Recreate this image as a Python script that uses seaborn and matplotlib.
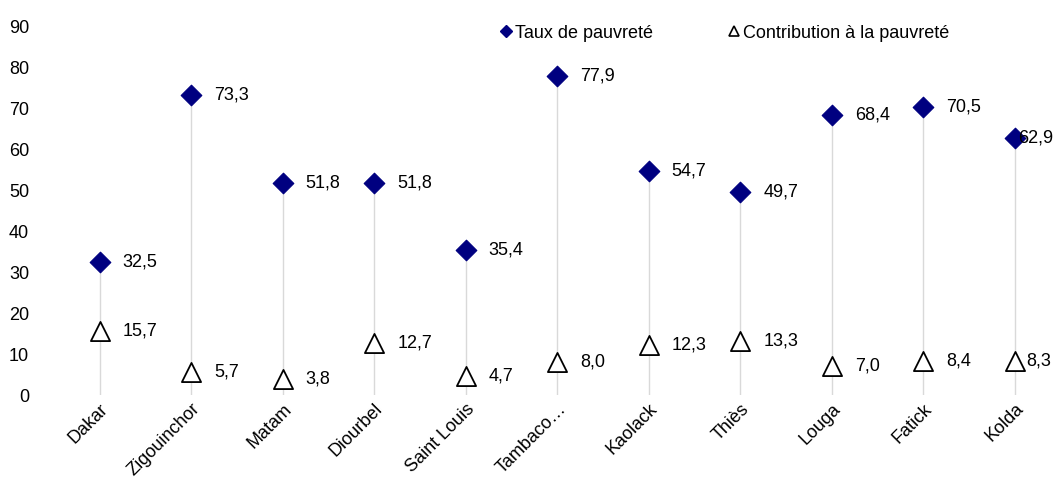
import matplotlib
matplotlib.use("Agg")
import matplotlib.pyplot as plt
import pandas as pd
import seaborn as sns
from matplotlib.lines import Line2D

regions = ["Dakar", "Zigouinchor", "Matam", "Diourbel", "Saint Louis", "Tambaco…",
           "Kaolack", "Thiès", "Louga", "Fatick", "Kolda"]
taux = [32.5, 73.3, 51.8, 51.8, 35.4, 77.9, 54.7, 49.7, 68.4, 70.5, 62.9]
contribution = [15.7, 5.7, 3.8, 12.7, 4.7, 8.0, 12.3, 13.3, 7.0, 8.4, 8.3]

sns.set_style("white")
plt.rcParams["font.family"] = ["Liberation Sans Narrow", "Liberation Sans", "DejaVu Sans"]
plt.rcParams["text.color"] = "black"
plt.rcParams["xtick.color"] = "black"
plt.rcParams["ytick.color"] = "black"

df = pd.DataFrame({"region": regions, "taux": taux, "contribution": contribution})

fig = plt.figure(figsize=(10.53, 4.95), dpi=100)
ax = fig.add_axes([54 / 1053, 100 / 495, 1 - 54 / 1053, 368 / 495])

# lignes verticales grises (de 0 jusqu'au taux)
ax.vlines(range(len(regions)), 0, df[["taux", "contribution"]].max(axis=1),
          color="#d9d9d9", lw=1, zorder=0)

sns.scatterplot(data=df, x="region", y="taux", marker="D", s=110,
                color="#000080", edgecolor="#000080", ax=ax, zorder=3)
sns.scatterplot(data=df, x="region", y="contribution", marker="^", s=190,
                facecolor="white", edgecolor="black", linewidth=1.3, ax=ax, zorder=3)

fmt = lambda v: f"{v:.1f}".replace(".", ",")
n = len(regions)
for i, (t, c) in enumerate(zip(taux, contribution)):
    # le dernier libellé est resserré pour tenir dans la figure
    last = i == n - 1
    ax.text(i + (0.03 if last else 0.25), t, fmt(t), fontsize=13,
            va="center", ha="left", zorder=4)
    ax.text(i + (0.12 if last else 0.25), c, fmt(c), fontsize=13,
            va="center", ha="left", zorder=4)

ax.set_ylim(0, 90)
ax.set_xlim(-0.5, 10.415)
ax.set_yticks(range(0, 91, 10))
ax.set_xlabel("")
ax.set_ylabel("")
for s in ax.spines.values():
    s.set_visible(False)
ax.tick_params(axis="y", labelsize=13, length=0, pad=18)
ax.tick_params(axis="x", labelsize=13, length=0, pad=4)
plt.setp(ax.get_xticklabels(), rotation=45, ha="right", rotation_mode="anchor")

handles = [
    Line2D([], [], marker="D", color="#000080", ls="none", markersize=6),
    Line2D([], [], marker="^", markerfacecolor="white", markeredgecolor="black",
           ls="none", markersize=7, markeredgewidth=1.2),
]
fig.legend(handles, ["Taux de pauvreté", "Contribution à la pauvreté"], ncol=2,
           frameon=False, fontsize=13, handlelength=0.6, handletextpad=0.2,
           columnspacing=4.2, loc="center left", bbox_to_anchor=(484 / 1053, 1 - 33 / 495))

fig.savefig("out.png", dpi=100)
